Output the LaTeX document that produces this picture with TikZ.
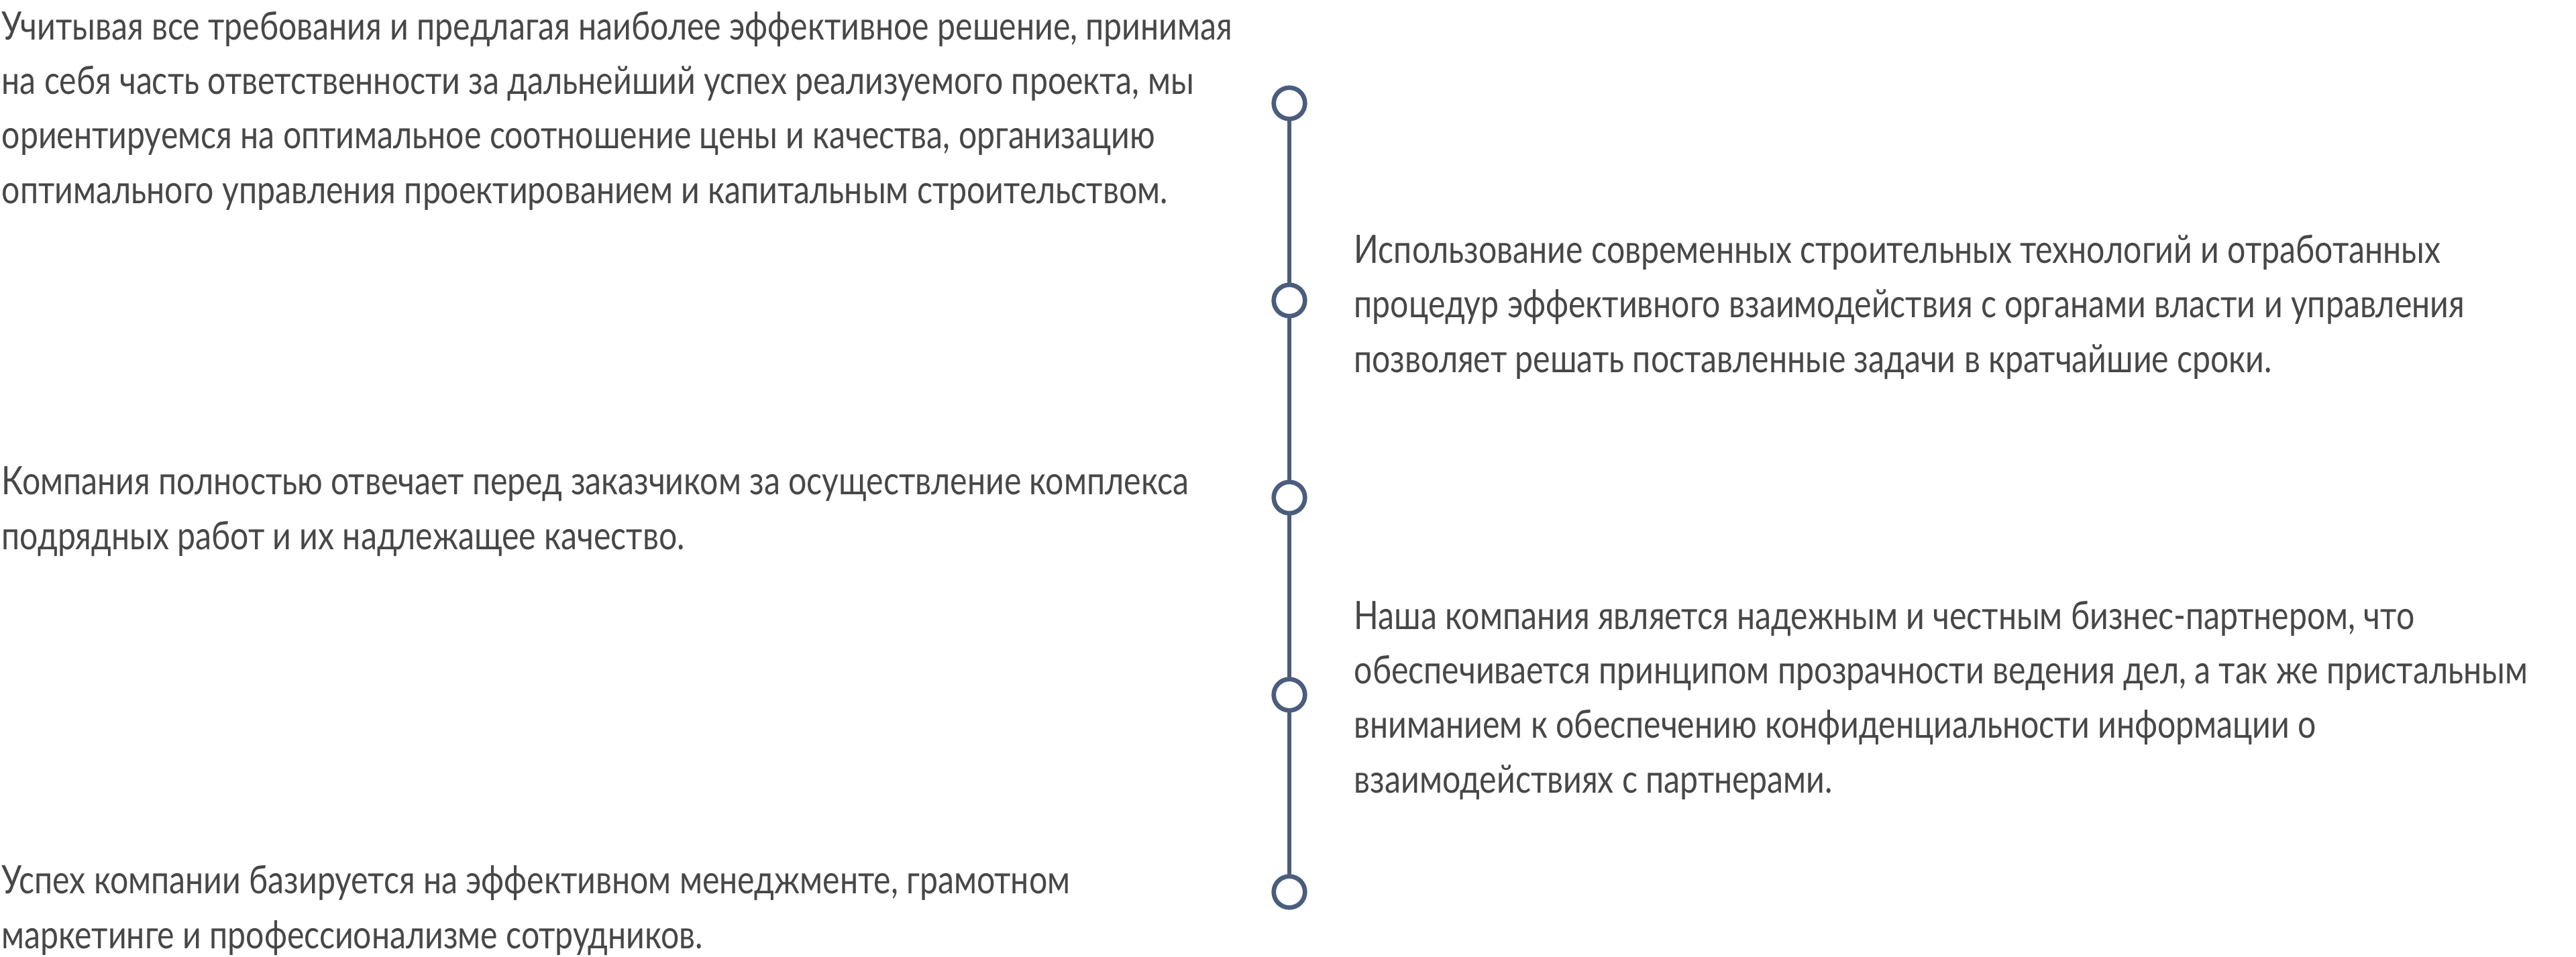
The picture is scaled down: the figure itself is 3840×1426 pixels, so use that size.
\documentclass[tikz,border=0pt]{standalone}
\usepackage{fontspec}
\setmainfont[FakeStretch=0.825]{Lato}
\definecolor{tline}{HTML}{4A5D7C}
\definecolor{ttext}{HTML}{474747}
\begin{document}
\begin{tikzpicture}[x=0.25pt,y=-0.25pt,
  dot/.style={circle,draw=tline,fill=white,line width=1.67pt,minimum size=11.65pt,inner sep=0pt,outer sep=0pt},
  para/.style={anchor=base west,inner sep=0pt,align=left,text=ttext,font=\fontsize{14.6}{20.3}\selectfont},
  link/.style={draw=tline,line width=1.33pt}]
\useasboundingbox (0,0) rectangle (3840,1426);
\node[dot] (c1) at (1922,154) {};
\node[dot] (c2) at (1922,448) {};
\node[dot] (c3) at (1922,742) {};
\node[dot] (c4) at (1922,1036) {};
\node[dot] (c5) at (1922,1330) {};
\draw[link] (c1) -- (c2);
\draw[link] (c2) -- (c3);
\draw[link] (c3) -- (c4);
\draw[link] (c4) -- (c5);
\node[para] (t1) at (2,303) {Учитывая все требования и предлагая наиболее эффективное решение, принимая\\на себя часть ответственности за дальнейший успех реализуемого проекта, мы\\ориентируемся на оптимальное соотношение цены и качества, организацию\\оптимального управления проектированием и капитальным строительством.};
\node[para] (t2) at (2018,555) {Использование современных строительных технологий и отработанных\\процедур эффективного взаимодействия с органами власти и управления\\позволяет решать поставленные задачи в кратчайшие сроки.};
\node[para] (t3) at (2,819) {Компания полностью отвечает перед заказчиком за осуществление комплекса\\подрядных работ и их надлежащее качество.};
\node[para] (t4) at (2018,1182) {Наша компания является надежным и честным бизнес-партнером, что\\обеспечивается принципом прозрачности ведения дел, а так же пристальным\\вниманием к обеспечению конфиденциальности информации о\\взаимодействиях с партнерами.};
\node[para] (t5) at (2,1414) {Успех компании базируется на эффективном менеджменте, грамотном\\маркетинге и профессионализме сотрудников.};
\end{tikzpicture}
\end{document}
